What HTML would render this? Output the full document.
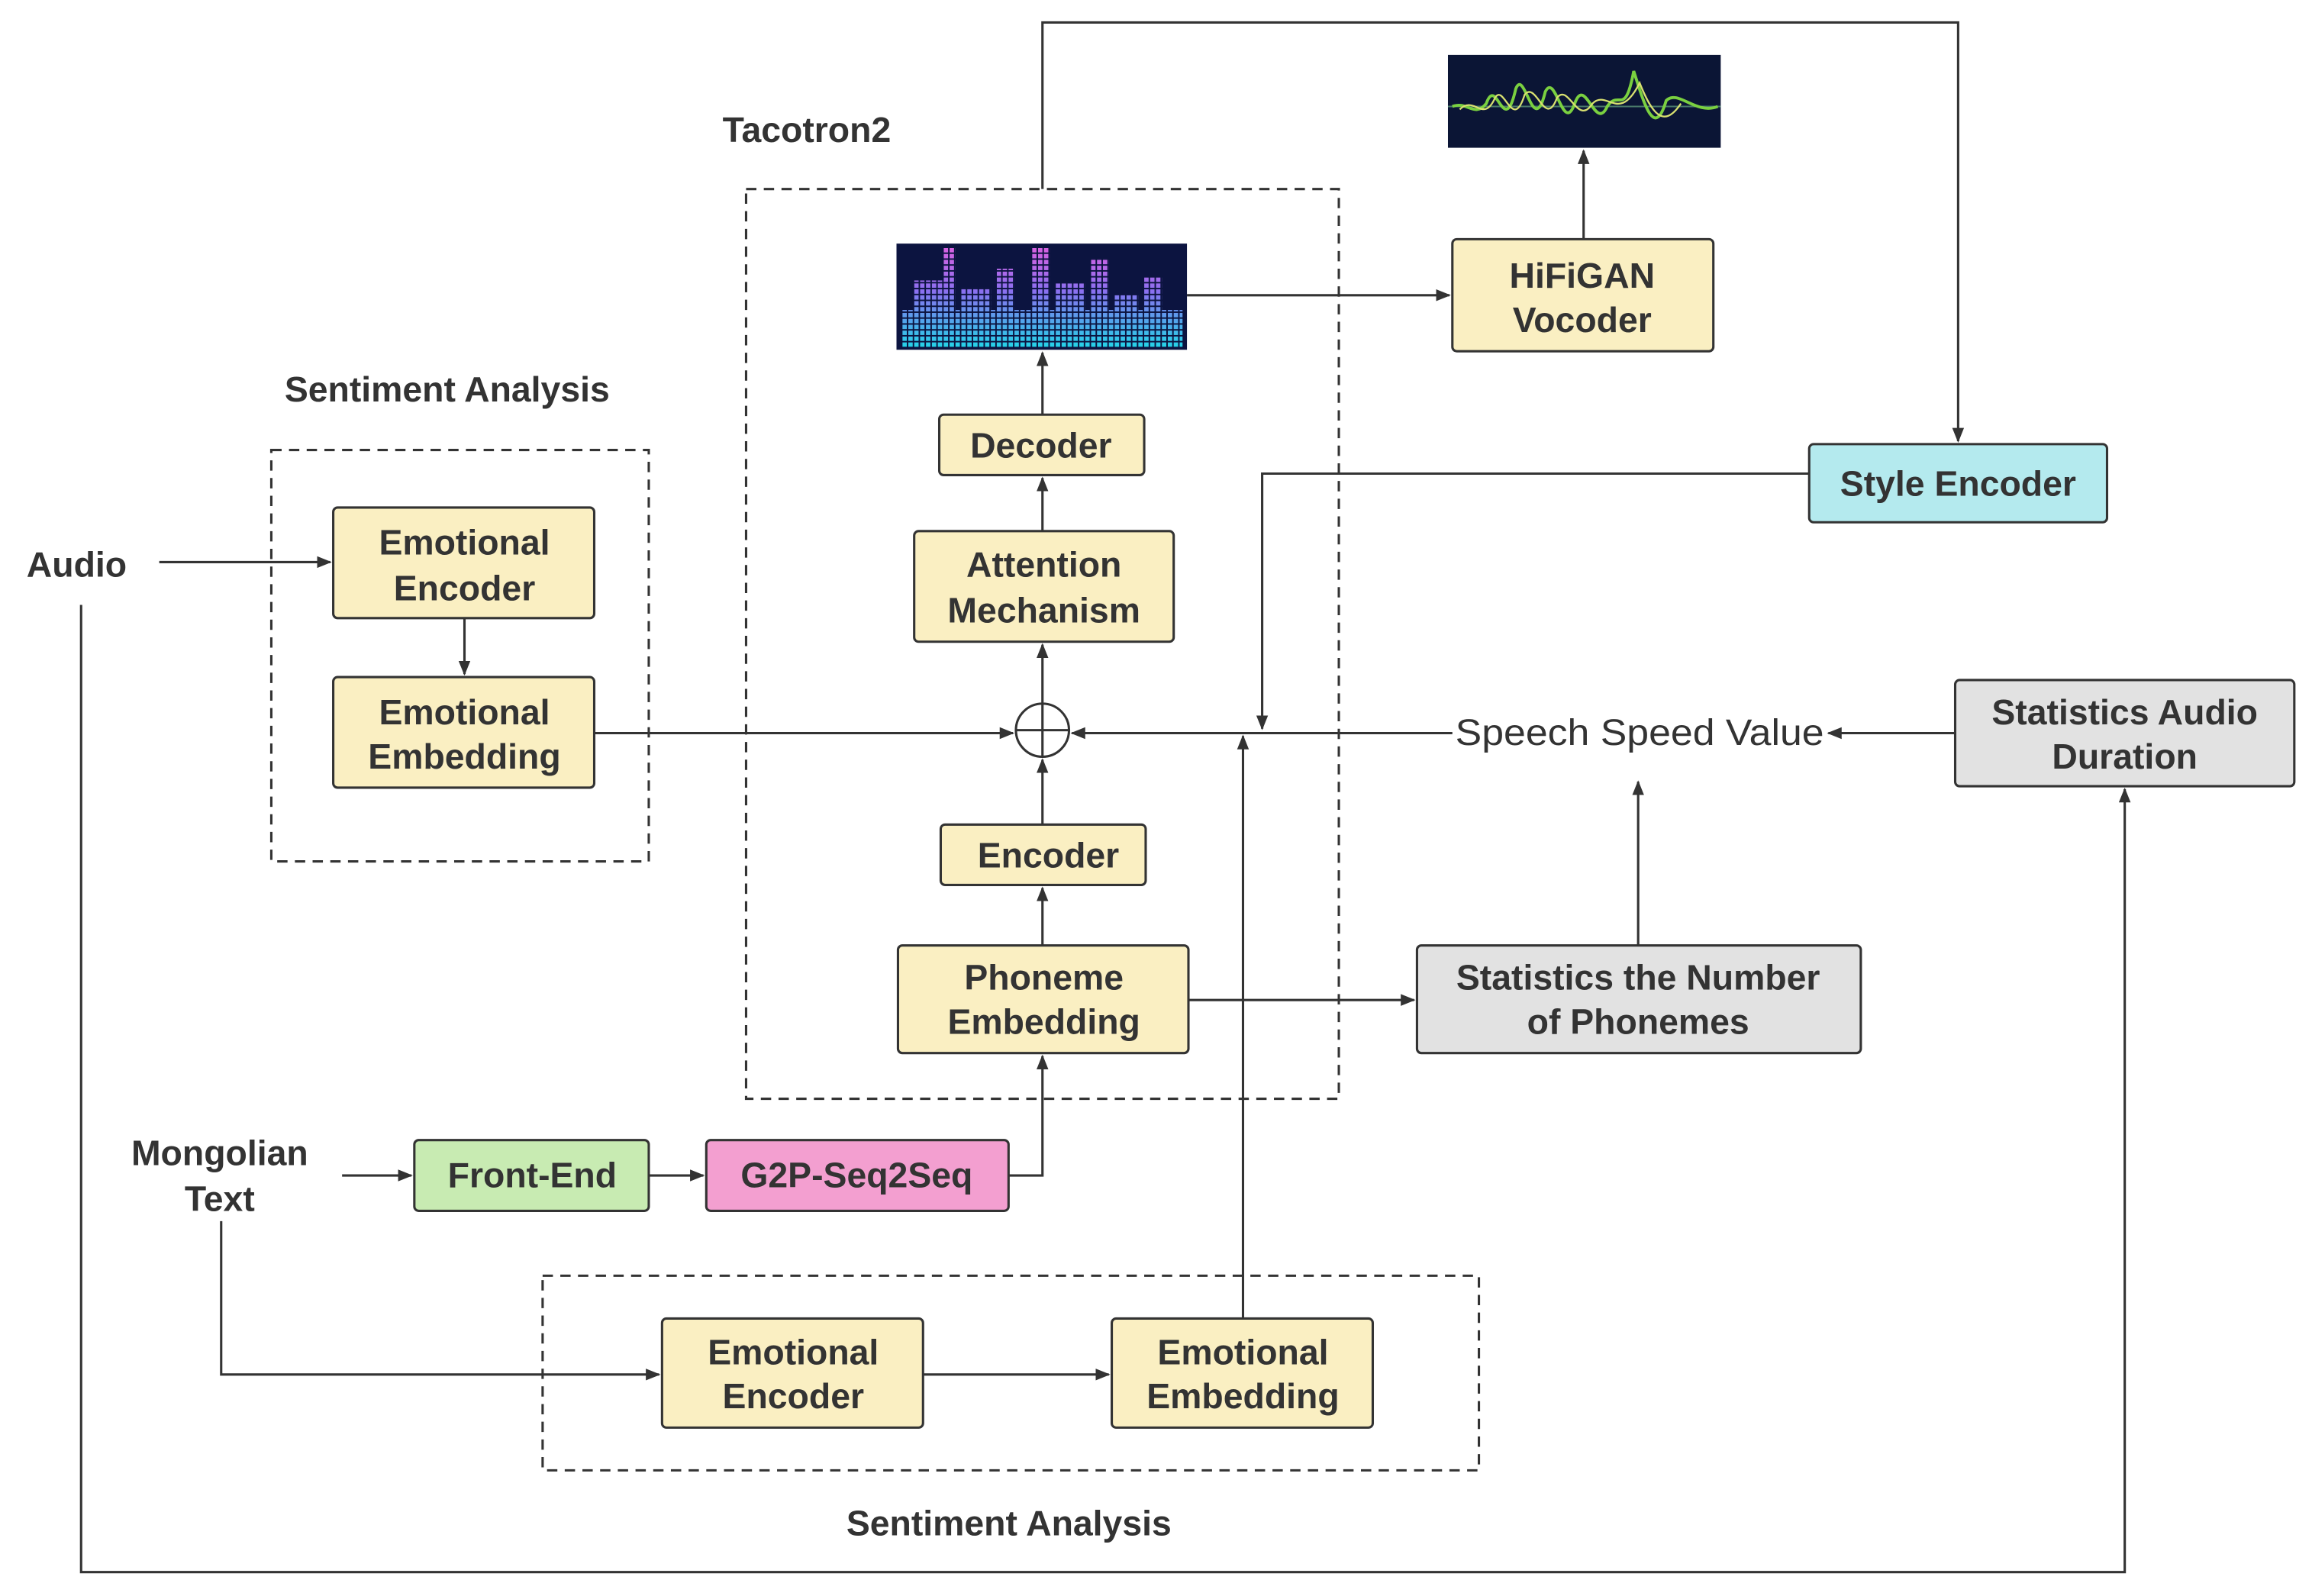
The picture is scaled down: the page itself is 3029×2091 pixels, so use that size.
<!DOCTYPE html>
<html><head><meta charset="utf-8"><style>
html,body{margin:0;padding:0;background:#fff;}
svg{display:block;}
text{font-family:"Liberation Sans",sans-serif;font-weight:bold;fill:#333;font-size:24px;}
</style></head><body>
<svg width="3029" height="2091" viewBox="0 0 1568 1082" xmlns="http://www.w3.org/2000/svg">
<defs>
<marker id="a" markerWidth="10" markerHeight="10" refX="9" refY="5" orient="auto" markerUnits="userSpaceOnUse">
<path d="M0,1 L10,5 L0,9 z" fill="#333"/></marker>
<linearGradient id="sg" gradientUnits="userSpaceOnUse" x1="0" y1="165" x2="0" y2="237">
<stop offset="0" stop-color="#e060e0"/><stop offset="0.45" stop-color="#8a70f0"/><stop offset="1" stop-color="#20d8e8"/></linearGradient>
<pattern id="dots" width="4" height="4" patternUnits="userSpaceOnUse"><rect width="3" height="3" fill="#fff"/></pattern>
<mask id="m"><rect x="608" y="165" width="197" height="72" fill="url(#dots)"/></mask>
</defs>
<g fill="none" stroke="#333" stroke-width="1.6">
<rect x="506" y="128" width="402" height="617" stroke-dasharray="7,5"/>
<rect x="184" y="305" width="256" height="279" stroke-dasharray="7,5"/>
<rect x="368" y="865" width="635" height="132" stroke-dasharray="7,5"/>
<polyline points="707,128 707,15 1328,15 1328,299" marker-end="url(#a)"/>
<polyline points="1227,321 856,321 856,494" marker-end="url(#a)"/>
<line x1="805" y1="200" x2="983" y2="200" marker-end="url(#a)"/>
<line x1="1074" y1="162" x2="1074" y2="102" marker-end="url(#a)"/>
<line x1="707" y1="281" x2="707" y2="239" marker-end="url(#a)"/>
<line x1="707" y1="360" x2="707" y2="324" marker-end="url(#a)"/>
<line x1="707" y1="477" x2="707" y2="437" marker-end="url(#a)"/>
<line x1="707" y1="559" x2="707" y2="515" marker-end="url(#a)"/>
<line x1="707" y1="641" x2="707" y2="602" marker-end="url(#a)"/>
<line x1="108" y1="381" x2="224" y2="381" marker-end="url(#a)"/>
<line x1="315" y1="419" x2="315" y2="457" marker-end="url(#a)"/>
<line x1="403" y1="497" x2="687" y2="497" marker-end="url(#a)"/>
<line x1="985" y1="497" x2="727" y2="497" marker-end="url(#a)"/>
<line x1="1326" y1="497" x2="1240" y2="497" marker-end="url(#a)"/>
<line x1="1111" y1="641" x2="1111" y2="530" marker-end="url(#a)"/>
<line x1="806" y1="678" x2="959" y2="678" marker-end="url(#a)"/>
<line x1="843" y1="894" x2="843" y2="499" marker-end="url(#a)"/>
<line x1="232" y1="797" x2="279" y2="797" marker-end="url(#a)"/>
<line x1="440" y1="797" x2="477" y2="797" marker-end="url(#a)"/>
<polyline points="684,797 707,797 707,716" marker-end="url(#a)"/>
<polyline points="150,828 150,932 447,932" marker-end="url(#a)"/>
<line x1="626" y1="932" x2="752" y2="932" marker-end="url(#a)"/>
<polyline points="55,410 55,1066 1441,1066 1441,535" marker-end="url(#a)"/>
<circle cx="707" cy="495" r="18" fill="#fff"/>
<line x1="689" y1="495" x2="725" y2="495"/><line x1="707" y1="477" x2="707" y2="513"/>
</g>
<g stroke="#333" stroke-width="1.6">
<rect x="985" y="162" width="177" height="76" rx="3" fill="#faefc2"/>
<rect x="1227" y="301" width="202" height="53" rx="3" fill="#b4eaee"/>
<rect x="637" y="281" width="139" height="41" rx="3" fill="#faefc2"/>
<rect x="620" y="360" width="176" height="75" rx="3" fill="#faefc2"/>
<rect x="638" y="559" width="139" height="41" rx="3" fill="#faefc2"/>
<rect x="609" y="641" width="197" height="73" rx="3" fill="#faefc2"/>
<rect x="226" y="344" width="177" height="75" rx="3" fill="#faefc2"/>
<rect x="226" y="459" width="177" height="75" rx="3" fill="#faefc2"/>
<rect x="1326" y="461" width="230" height="72" rx="3" fill="#e2e2e2"/>
<rect x="961" y="641" width="301" height="73" rx="3" fill="#e2e2e2"/>
<rect x="281" y="773" width="159" height="48" rx="3" fill="#c8ebb2"/>
<rect x="479" y="773" width="205" height="48" rx="3" fill="#f39fd0"/>
<rect x="449" y="894" width="177" height="74" rx="3" fill="#faefc2"/>
<rect x="754" y="894" width="177" height="74" rx="3" fill="#faefc2"/>
</g>
<rect x="608" y="165" width="197" height="72" fill="#0c1440"/>
<g fill="url(#sg)" mask="url(#m)">
<rect x="612" y="210" width="190" height="25"/>
<rect x="620" y="190" width="24" height="45"/><rect x="640" y="168" width="8" height="67"/>
<rect x="652" y="195" width="20" height="40"/><rect x="676" y="182" width="12" height="53"/>
<rect x="700" y="168" width="12" height="67"/><rect x="716" y="192" width="20" height="43"/>
<rect x="740" y="175" width="12" height="60"/><rect x="756" y="200" width="16" height="35"/>
<rect x="776" y="188" width="12" height="47"/>
</g>
<rect x="982" y="37" width="185" height="63" fill="#0b1535"/>
<line x1="982" y1="72" x2="1167" y2="72" stroke="#4a7a6a" stroke-width="1"/>
<path d="M985,72 C995,68 1000,80 1008,70 C1015,50 1020,95 1028,60 C1034,45 1040,95 1048,62 C1055,48 1060,92 1068,70 C1075,50 1082,90 1090,72 C1098,60 1102,80 1108,48 C1115,70 1122,95 1130,68 C1138,60 1150,78 1165,72" fill="none" stroke="#7ad040" stroke-width="2"/>
<path d="M990,74 C1000,64 1006,84 1014,66 C1020,56 1026,90 1034,64 C1042,54 1048,88 1056,66 C1064,56 1070,86 1080,70 C1090,60 1098,84 1112,56 C1120,76 1128,88 1140,70" fill="none" stroke="#d8e070" stroke-width="1.2"/>
<text x="490" y="96">Tacotron2</text>
<text x="193" y="272">Sentiment Analysis</text>
<text x="574" y="1041">Sentiment Analysis</text>
<text x="18" y="391">Audio</text>
<text x="149" y="790" text-anchor="middle">Mongolian</text>
<text x="149" y="821" text-anchor="middle">Text</text>
<text x="987" y="505" style="font-weight:normal;font-size:25px" textLength="250" lengthAdjust="spacingAndGlyphs">Speech Speed Value</text>
<g text-anchor="middle">
<text x="1073" y="195">HiFiGAN</text><text x="1073" y="225">Vocoder</text>
<text x="1328" y="336">Style Encoder</text>
<text x="706" y="310">Decoder</text>
<text x="708" y="391">Attention</text><text x="708" y="422">Mechanism</text>
<text x="711" y="588">Encoder</text>
<text x="708" y="671">Phoneme</text><text x="708" y="701">Embedding</text>
<text x="315" y="376">Emotional</text><text x="315" y="407">Encoder</text>
<text x="315" y="491">Emotional</text><text x="315" y="521">Embedding</text>
<text x="1441" y="491">Statistics Audio</text><text x="1441" y="521">Duration</text>
<text x="1111" y="671">Statistics the Number</text><text x="1111" y="701">of Phonemes</text>
<text x="361" y="805">Front-End</text>
<text x="581" y="805">G2P-Seq2Seq</text>
<text x="538" y="925">Emotional</text><text x="538" y="955">Encoder</text>
<text x="843" y="925">Emotional</text><text x="843" y="955">Embedding</text>
</g>
</svg>
</body></html>
